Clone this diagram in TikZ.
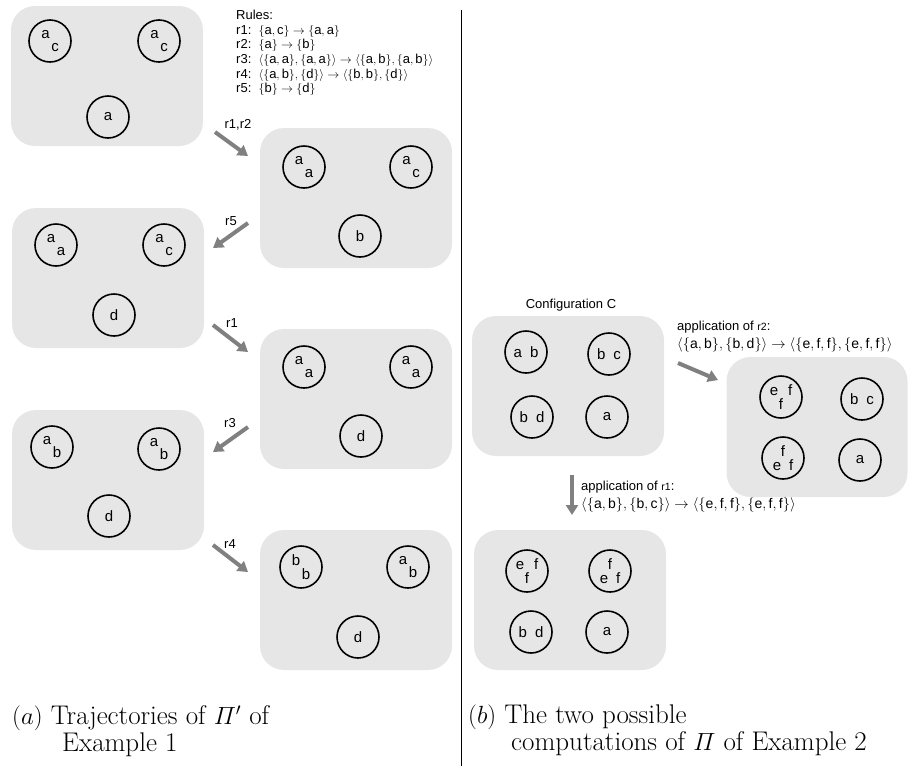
\documentclass[tikz,border=0pt]{standalone}
\usepackage{amsmath}
\usepackage{fontspec}
\setsansfont{Liberation Sans}
\usetikzlibrary{arrows.meta}
\definecolor{membfill}{HTML}{E6E6E6}
\definecolor{flowgray}{HTML}{808080}
% letter layouts inside a membrane
\newcommand{\diag}[2]{#1\\[-4pt]\hspace*{10pt}#2}
\newcommand{\pair}[2]{#1\hspace{8pt}#2}
\newcommand{\effdown}{e\hspace{10pt}f\\[-4pt]f}
\newcommand{\effup}{f\\[-4pt]e\hspace{8pt}f}
\newcommand{\smallr}[1]{{\fontsize{10.5}{12}\selectfont #1}}
\newcommand{\ms}[1]{\{\mathsf{#1}\}}

\begin{document}
\begin{tikzpicture}[
  x=1pt, y=-1pt,
  config/.style={fill=membfill, rounded corners=24pt, minimum width=192pt,
                 minimum height=140pt, inner sep=0pt},
  memb/.style={circle, draw, line width=1.6pt, minimum size=42pt, inner sep=0pt,
               font=\sffamily\fontsize{15}{17.5}\selectfont},
  membl/.style={memb, align=left},
  membc/.style={memb, align=center},
  flow/.style={draw=flowgray, line width=4pt, -{Triangle[length=10pt,width=12pt]}},
  rlbl/.style={font=\sffamily\fontsize{13}{15}\selectfont, inner sep=0pt},
  txt/.style={font=\sffamily\fontsize{13}{14.6}\selectfont, align=left, inner sep=0pt},
  capt/.style={font=\fontsize{27}{27}\selectfont, align=left, inner sep=0pt}
]
  \useasboundingbox (0,0) rectangle (909,766);

  % Configurations (a)
  \node[config] (a1) at (107,76) {};
  \node[config] (a2) at (356,198) {};
  \node[config] (a3) at (108,278) {};
  \node[config] (a4) at (356,399) {};
  \node[config] (a5) at (108,480) {};
  \node[config] (a6) at (356,600) {};

  % Configurations (b)
  \node[config] (b1) at (568,386) {};
  \node[config, minimum width=181pt] (b2) at (817,427) {};
  \node[config] (b3) at (570,600) {};

  % Membranes (a)
  \node[membl] (a1x) at (50,41) {\diag{a}{c}};
  \node[membl] (a1y) at (159,41) {\diag{a}{c}};
  \node[memb] (a1z) at (108,117) {a};
  \node[membl] (a2x) at (304,167) {\diag{a}{a}};
  \node[membl] (a2y) at (411,167) {\diag{a}{c}};
  \node[memb] (a2z) at (360,236) {b};
  \node[membl] (a3x) at (56,245) {\diag{a}{a}};
  \node[membl] (a3y) at (164,245) {\diag{a}{c}};
  \node[memb] (a3z) at (114,315) {d};
  \node[membl] (a4x) at (304,367) {\diag{a}{a}};
  \node[membl] (a4y) at (411,367) {\diag{a}{a}};
  \node[memb] (a4z) at (361,436) {d};
  \node[membl] (a5x) at (52,447) {\diag{a}{b}};
  \node[membl] (a5y) at (159,449) {\diag{a}{b}};
  \node[memb] (a5z) at (109,516) {d};
  \node[membl] (a6x) at (301,567) {\diag{b}{b}};
  \node[membl] (a6y) at (408,567) {\diag{a}{b}};
  \node[memb] (a6z) at (358,637) {d};

  % Membranes (b)
  \node[memb] (b1w) at (526,352) {\pair{a}{b}};
  \node[memb] (b1x) at (609,354) {\pair{b}{c}};
  \node[memb] (b1y) at (532,417) {\pair{b}{d}};
  \node[memb] (b1z) at (607,417) {a};
  \node[membc] (b2w) at (781,397) {\effdown};
  \node[memb] (b2x) at (862,399) {\pair{b}{c}};
  \node[membc] (b2y) at (783,458) {\effup};
  \node[memb] (b2z) at (860,460) {a};
  \node[membc] (b3w) at (527,571) {\effdown};
  \node[membc] (b3x) at (610,571) {\effup};
  \node[memb] (b3y) at (531,632) {\pair{b}{d}};
  \node[memb] (b3z) at (607,632) {a};

  % Rules
  \node[txt, anchor=north west] (rules) at (236,10) {Rules:\\
    r1:\ \ $\ms{a,c}\rightarrow\ms{a,a}$\\
    r2:\ \ $\ms{a}\rightarrow\ms{b}$\\
    r3:\ \ $\langle\ms{a,a},\ms{a,a}\rangle\rightarrow\langle\ms{a,b},\ms{a,b}\rangle$\\
    r4:\ \ $\langle\ms{a,b},\ms{d}\rangle\rightarrow\langle\ms{b,b},\ms{d}\rangle$\\
    r5:\ \ $\ms{b}\rightarrow\ms{d}$};

  % Steps (a)
  \coordinate (s1) at (215,132); \coordinate (t1) at (248,156);
  \coordinate (s2) at (248,223); \coordinate (t2) at (213,248);
  \coordinate (s3) at (213,325); \coordinate (t3) at (248,352);
  \coordinate (s4) at (248,427); \coordinate (t4) at (213,452);
  \coordinate (s5) at (213,545); \coordinate (t5) at (248,572);
  \draw[flow] (s1) -- (t1);
  \draw[flow] (s2) -- (t2);
  \draw[flow] (s3) -- (t3);
  \draw[flow] (s4) -- (t4);
  \draw[flow] (s5) -- (t5);
  \node[rlbl] (l1) at (238,125) {r1,r2};
  \node[rlbl] (l2) at (231,221) {r5};
  \node[rlbl] (l3) at (232,323) {r1};
  \node[rlbl] (l4) at (230,423) {r3};
  \node[rlbl] (l5) at (230,544) {r4};

  % Steps (b)
  \node[txt] (conf) at (571,305) {Configuration C};
  \coordinate (s6) at (678,363); \coordinate (t6) at (718,380);
  \coordinate (s7) at (572,475); \coordinate (t7) at (572,515);
  \draw[flow] (s6) -- (t6);
  \draw[flow] (s7) -- (t7);
  \node[txt, anchor=north west] (app2) at (677,321) {application of \smallr{r2}:\\[3pt]
    {\fontsize{14}{15}\selectfont
    $\langle\ms{a,b},\ms{b,d}\rangle\rightarrow\langle\ms{e,f,f},\ms{e,f,f}\rangle$}};
  \node[txt, anchor=north west] (app1) at (581,481) {application of \smallr{r1}:\\[3pt]
    {\fontsize{14}{15}\selectfont
    $\langle\ms{a,b},\ms{b,c}\rangle\rightarrow\langle\ms{e,f,f},\ms{e,f,f}\rangle$}};

  % Separator
  \coordinate (sepa) at (461,10); \coordinate (sepb) at (461,766);
  \draw[line width=1pt] (sepa) -- (sepb);

  % Captions
  \node[capt, anchor=north west] (capa) at (12,705)
    {$(a)$ Trajectories of $\varPi'$ of\\ \hspace*{50pt}Example 1};
  \node[capt, anchor=north west] (capb) at (468,705)
    {$(b)$ The two possible\\ \hspace*{43pt}computations of $\varPi$ of Example 2};
\end{tikzpicture}
\end{document}
